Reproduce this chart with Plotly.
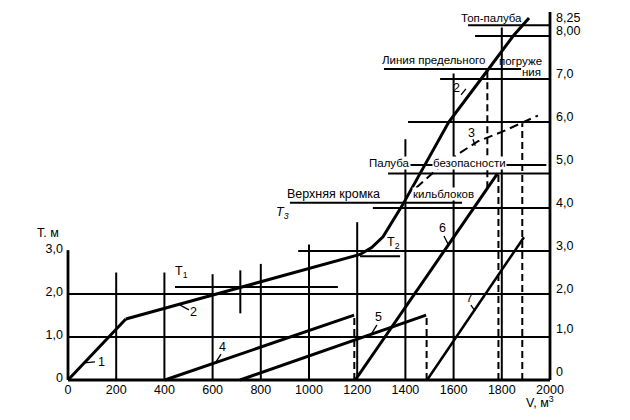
import plotly.graph_objects as go

# ---------------- data ----------------
x_tickvals = [0, 200, 400, 600, 800, 1000, 1200, 1400, 1600, 1800, 2000]
x_ticktext = ["0", "200", "400", "600", "800", "1000", "1200", "1400", "1600", "1800", "2000"]
left_tickvals = [0, 1, 2, 3]
left_ticktext = ["0", "1,0", "2,0", "3,0"]
right_tickvals = [2, 3, 4, 5, 6, 7, 8]
right_ticktext = ["2,0", "3,0", "4,0", "5,0", "6,0", "7,0", "8,00"]
right_hi_tickvals = [0, 1, 8.25]
right_hi_ticktext = ["0", "1,0", "8,25"]

curve1_v = [0, 240]
curve1_t = [0, 1.42]
curve2_v = [240, 1212, 1260, 1307, 1386, 1461, 1580, 1714, 1847, 1913]
curve2_t = [1.42, 2.92, 3.08, 3.33, 4.05, 4.8, 6.0, 7.0, 8.0, 8.42]
curve3_v = [1445, 1530, 1618, 1700, 1800, 1880, 1950]
curve3_t = [4.47, 4.9, 5.25, 5.55, 5.77, 5.97, 6.15]
line4_v = [402, 1187]
line4_t = [0, 1.51]
line5_v = [714, 1486]
line5_t = [0, 1.51]
line6_v = [1192, 1782]
line6_t = [0, 4.8]
line7_v = [1490, 1892]
line7_t = [0, 3.32]

# horizontal grid segments
h_level = [1, 2, 3, 2.16, 2.88, 4.12, 4.0, 4.8, 5.0, 6.0, 7.23, 7.0, 8.0, 8.25]
h_from = [0, 0, 955, 444, 1212, 921, 1265, 1328, 1415, 1411, 1311, 1544, 1689, 1660]
h_to = [2000, 2000, 2000, 1120, 1378, 1635, 2000, 2000, 1985, 2000, 1880, 2000, 2000, 2000]

# vertical grid segments
v_pos = [200, 400, 600, 715, 800, 1000, 1200, 1400, 1600, 1800]
v_from = [0, 0, 0, 1.55, 0, 0, 0, 0, 0, 0]
v_to = [2.5, 2.5, 2.46, 2.55, 2.7, 3.15, 3.67, 5.6, 7.13, 8.2]

# axes drawn as segments
axis_v0 = [0, 0, 2000]
axis_t0 = [0, 0, 0]
axis_v1 = [2000, 0, 2000]
axis_t1 = [0, 3.02, 8.56]

# dashed verticals
d_pos = [1188, 1488, 1740, 1786, 1885]
d_from = [0, 0, 4.46, 0, 0]
d_to = [1.51, 1.51, 7.22, 4.8, 5.97]

# leader strokes for numbered labels
lead_v0 = [66, 465, 635, 1282, 1560, 1672, 1631, 1680]
lead_t0 = [0.40, 1.74, 0.60, 1.28, 3.35, 1.74, 6.63, 5.6]
lead_v1 = [112, 502, 614, 1261, 1577, 1689, 1651, 1690]
lead_t1 = [0.42, 1.63, 0.42, 1.09, 3.16, 1.60, 6.77, 5.45]

# text labels
lbl_text = ["1", "2", "4", "5", "6", "7", "2", "3",
            "T<sub>1</sub>", "T<sub>2</sub>", "<i>T<sub>3</sub></i>"]
lbl_v = [137, 519, 643, 1290, 1552, 1664, 1614, 1676, 473, 1349, 892]
lbl_t = [0.42, 1.58, 0.77, 1.47, 3.53, 1.91, 6.79, 5.74, 2.51, 3.19, 3.88]

note_text = ["Топ-палуба", "Линия предельного", "погруже", "ния",
             "Палуба", "безопасности", "Верхняя кромка", "кильблоков"]
note_v = [1759, 1515, 1876, 1925, 1336, 1664, 1100, 1560]
note_t = [8.42, 7.44, 7.42, 7.16, 5.05, 5.05, 4.33, 4.33]
note_size = [11.5, 11.5, 11.5, 11.5, 11.5, 11.5, 12.5, 11.5]
note_bg = [False, False, False, False, True, True, False, True]

INK = "#000000"
FONT = "Liberation Sans, Arial, sans-serif"


def seg_xy(x0, y0, x1, y1):
    xs, ys = [], []
    for a, b, c, d in zip(x0, y0, x1, y1):
        xs += [a, c, None]
        ys += [b, d, None]
    return xs, ys


fig = go.Figure()

hx, hy = seg_xy(h_from, h_level, h_to, h_level)
fig.add_trace(go.Scatter(x=hx, y=hy, mode="lines", line=dict(color=INK, width=2), hoverinfo="skip"))
vx, vy = seg_xy(v_pos, v_from, v_pos, v_to)
fig.add_trace(go.Scatter(x=vx, y=vy, mode="lines", line=dict(color=INK, width=2), hoverinfo="skip"))
ax, ay = seg_xy(axis_v0, axis_t0, axis_v1, axis_t1)
fig.add_trace(go.Scatter(x=ax, y=ay, mode="lines", line=dict(color=INK, width=2.8), hoverinfo="skip"))
dx, dy = seg_xy(d_pos, d_from, d_pos, d_to)
fig.add_trace(go.Scatter(x=dx, y=dy, mode="lines", line=dict(color=INK, width=2, dash="7px,4px"), hoverinfo="skip"))
lx, ly = seg_xy(lead_v0, lead_t0, lead_v1, lead_t1)
fig.add_trace(go.Scatter(x=lx, y=ly, mode="lines", line=dict(color=INK, width=1.3), hoverinfo="skip"))

for cv, ct, w in [(curve1_v, curve1_t, 3), (curve2_v, curve2_t, 3),
                  (line4_v, line4_t, 3), (line5_v, line5_t, 3),
                  (line6_v, line6_t, 3), (line7_v, line7_t, 2.5)]:
    fig.add_trace(go.Scatter(x=cv, y=ct, mode="lines", line=dict(color=INK, width=w), hoverinfo="skip"))
fig.add_trace(go.Scatter(x=curve3_v, y=curve3_t, mode="lines",
                         line=dict(color=INK, width=2, dash="9px,5px"), hoverinfo="skip"))

# invisible carriers for the right-hand tick axes
fig.add_trace(go.Scatter(x=[0], y=[0], yaxis="y2", mode="markers",
                         marker=dict(opacity=0), hoverinfo="skip"))
fig.add_trace(go.Scatter(x=[0], y=[0], yaxis="y3", mode="markers",
                         marker=dict(opacity=0), hoverinfo="skip"))

annotations = []
for t, v, y in zip(lbl_text, lbl_v, lbl_t):
    annotations.append(dict(x=v, y=y, xref="x", yref="y", text=t, showarrow=False,
                            font=dict(family=FONT, size=12.5, color=INK)))
for t, v, y, s, bg in zip(note_text, note_v, note_t, note_size, note_bg):
    annotations.append(dict(x=v, y=y, xref="x", yref="y", text=t, showarrow=False,
                            font=dict(family=FONT, size=s, color=INK),
                            bgcolor="white" if bg else "rgba(0,0,0,0)", borderpad=0))
# axis captions (outside the data area, so in paper units)
annotations.append(dict(x=-0.0305, y=0.405, xref="paper", yref="paper", text="Т. м", showarrow=False,
                        xanchor="center", yanchor="middle",
                        font=dict(family=FONT, size=12.5, color=INK)))
annotations.append(dict(x=0.9695, y=-0.046, xref="paper", yref="paper", text="V, м<sup>3</sup>",
                        xanchor="center", yanchor="middle",
                        showarrow=False, font=dict(family=FONT, size=12.5, color=INK)))

axis_font = dict(family=FONT, size=12.5, color=INK)
yrange = [-0.1163, 8.605]
common = dict(showgrid=False, zeroline=False, showline=False, ticks="", automargin=False,
              tickfont=axis_font)
# the page body adds an 8px offset, so the figure is 8px smaller and margins shifted
fig.update_layout(
    template="none",
    width=622, height=412,
    margin=dict(l=55, r=75, t=2, b=35, autoexpand=False),
    paper_bgcolor="white", plot_bgcolor="white",
    showlegend=False,
    xaxis=dict(range=[-20.75, 2020.75], tickvals=x_tickvals, ticktext=x_ticktext,
               ticklabelstandoff=-5, **common),
    yaxis=dict(range=yrange, tickvals=left_tickvals, ticktext=left_ticktext,
               ticklabelstandoff=-1, ticklabelshift=-2, **common),
    yaxis2=dict(range=yrange, overlaying="y", side="right",
                tickvals=right_tickvals, ticktext=right_ticktext,
                ticklabelshift=-5, **common),
    yaxis3=dict(range=yrange, overlaying="y", side="right",
                tickvals=right_hi_tickvals, ticktext=right_hi_ticktext,
                ticklabelshift=-8, **common),
    annotations=annotations,
)

fig.write_html("out.html")
